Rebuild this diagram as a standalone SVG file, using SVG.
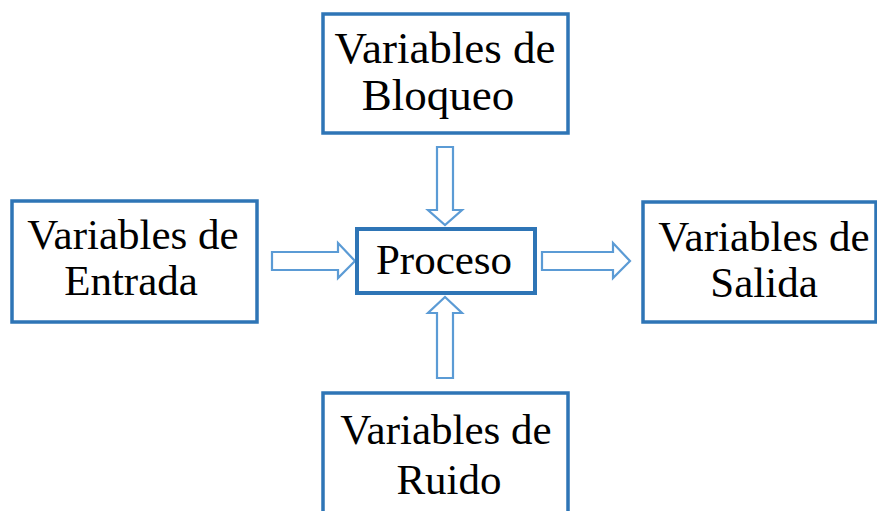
<svg xmlns="http://www.w3.org/2000/svg" width="877" height="511" viewBox="0 0 877 511">
<style>
.box{fill:#fff;stroke:#2E75B6;stroke-width:3.5}
.proc{fill:#fff;stroke:#2E75B6;stroke-width:4}
.arr{fill:#fff;stroke:#5B9BD5;stroke-width:2.2;stroke-linejoin:miter}
text{font-family:"Liberation Serif","Times New Roman",serif;font-size:43px;fill:#000;text-anchor:middle}
</style>
<rect width="877" height="511" fill="#fff"/>
<g id="connectors">
<polygon class="arr" points="437,147 453,147 453,210 462,210 445,225 428,210 437,210"/>
<polygon class="arr" points="437,378 453,378 453,313 462,313 445,297 428,313 437,313"/>
<polygon class="arr" points="272,252 338,252 338,243 355,261 338,278 338,270 272,270"/>
<polygon class="arr" points="542,252 613,252 613,243 630,261 613,278 613,270 542,270"/>
</g>
<g id="bloqueo">
<rect class="box" x="323" y="14" width="245" height="119"/>
<text x="445" y="63" style="font-size:45px">Variables de</text>
<text x="438" y="110" style="font-size:45px">Bloqueo</text>
</g>
<g id="entrada">
<rect class="box" x="12" y="201" width="245" height="121"/>
<text x="133" y="249">Variables de</text>
<text x="131" y="295">Entrada</text>
</g>
<g id="proceso">
<rect class="proc" x="357" y="229" width="178" height="64"/>
<text x="444" y="274">Proceso</text>
</g>
<g id="salida">
<rect class="box" x="643" y="202" width="233" height="120"/>
<text x="764" y="251">Variables de</text>
<text x="764" y="297">Salida</text>
</g>
<g id="ruido">
<rect class="box" x="323" y="393" width="245" height="130"/>
<text x="446" y="444">Variables de</text>
<text x="449" y="494">Ruido</text>
</g>
</svg>
